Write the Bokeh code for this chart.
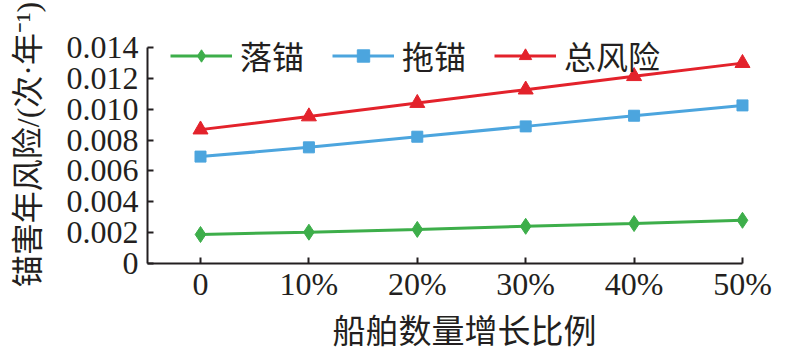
from bokeh.plotting import figure
from bokeh.models import Range1d, FixedTicker, Legend, LegendItem
from bokeh.embed import file_html
from bokeh.resources import INLINE

# ---- data ----
categories = ["0", "10%", "20%", "30%", "40%", "50%"]
drop_anchor = [0.00188, 0.00203, 0.00221, 0.00241, 0.00259, 0.00280]
drag_anchor = [0.00693, 0.00753, 0.00822, 0.00889, 0.00958, 0.01025]
total_risk = [0.00868, 0.00953, 0.01040, 0.01127, 0.01214, 0.01299]
series_names = ["落锚", "拖锚", "总风险"]
y_ticks = [0, 0.002, 0.004, 0.006, 0.008, 0.010, 0.012, 0.014]
y_tick_labels = ["0", "0.002", "0.004", "0.006", "0.008", "0.010", "0.012", "0.014"]
x_title = "船舶数量增长比例"
y_title = "锚害年风险/(次·年⁻¹)"

xs = list(range(len(categories)))

TEXT = "#231f20"
NUMFONT = "Liberation Serif"
CJKFONT = "Liberation Serif, Noto Sans CJK SC"
GREEN = "#3dae4a"
BLUE = "#4ca5de"
RED = "#e3222b"

p = figure(width=798, height=355, output_backend="svg", toolbar_location=None,
           x_range=Range1d(-0.489, 5.36), y_range=Range1d(0, 0.01543),
           min_border_left=147, min_border_right=17, min_border_top=25,
           min_border_bottom=92)
p.outline_line_color = None
p.grid.visible = False
p.background_fill_color = "white"
p.border_fill_color = "white"

# axes
p.xaxis.ticker = FixedTicker(ticks=xs)
p.xaxis.major_label_overrides = {i: c for i, c in zip(xs, categories)}
p.yaxis.ticker = FixedTicker(ticks=y_ticks)
p.yaxis.major_label_overrides = {t: l for t, l in zip(y_ticks, y_tick_labels)}
p.xaxis.bounds = (-0.489, len(categories) - 1)
p.yaxis.bounds = (0, y_ticks[-1])
for ax in (p.xaxis, p.yaxis):
    ax.axis_line_color = TEXT
    ax.axis_line_width = 2
    ax.major_tick_line_color = TEXT
    ax.major_tick_line_width = 2
    ax.major_tick_in = 6
    ax.major_tick_out = 0
    ax.minor_tick_line_color = None
    ax.major_label_text_font = NUMFONT
    ax.major_label_text_font_size = "32px"
    ax.major_label_text_color = TEXT
    ax.axis_label_text_font = CJKFONT
    ax.axis_label_text_font_style = "normal"
    ax.axis_label_text_color = TEXT
p.xaxis.major_label_standoff = 2
p.yaxis.major_label_standoff = 9
p.xaxis.axis_label = x_title
p.xaxis.axis_label_text_font_size = "33px"
p.xaxis.axis_label_standoff = 9
p.yaxis.axis_label = y_title
p.yaxis.axis_label_text_font_size = "32px"
p.yaxis.axis_label_standoff = 18

items = []
specs = [(drop_anchor, GREEN, "diamond", 16, 10),
         (drag_anchor, BLUE, "square", 11, 9),
         (total_risk, RED, "triangle", 15, 10)]
for name, (ys, col, marker, big, small) in zip(series_names, specs):
    ln = p.line(xs, ys, line_color=col, line_width=3)
    sm = p.scatter(xs, ys, marker=marker, size=small, fill_color=col, line_color=col)
    p.scatter(xs, ys, marker=marker, size=big, fill_color=col, line_color=col)
    items.append(LegendItem(label=name, renderers=[ln, sm]))

legend = Legend(items=items, orientation="horizontal", location=(23, 185),
                glyph_width=62, glyph_height=31, label_height=31,
                label_standoff=8, spacing=28, padding=0, margin=0,
                border_line_alpha=0, background_fill_alpha=0,
                label_text_font=CJKFONT, label_text_font_size="32px",
                label_text_color=TEXT)
p.add_layout(legend, "center")

open("out.html", "w").write(file_html(p, INLINE))
